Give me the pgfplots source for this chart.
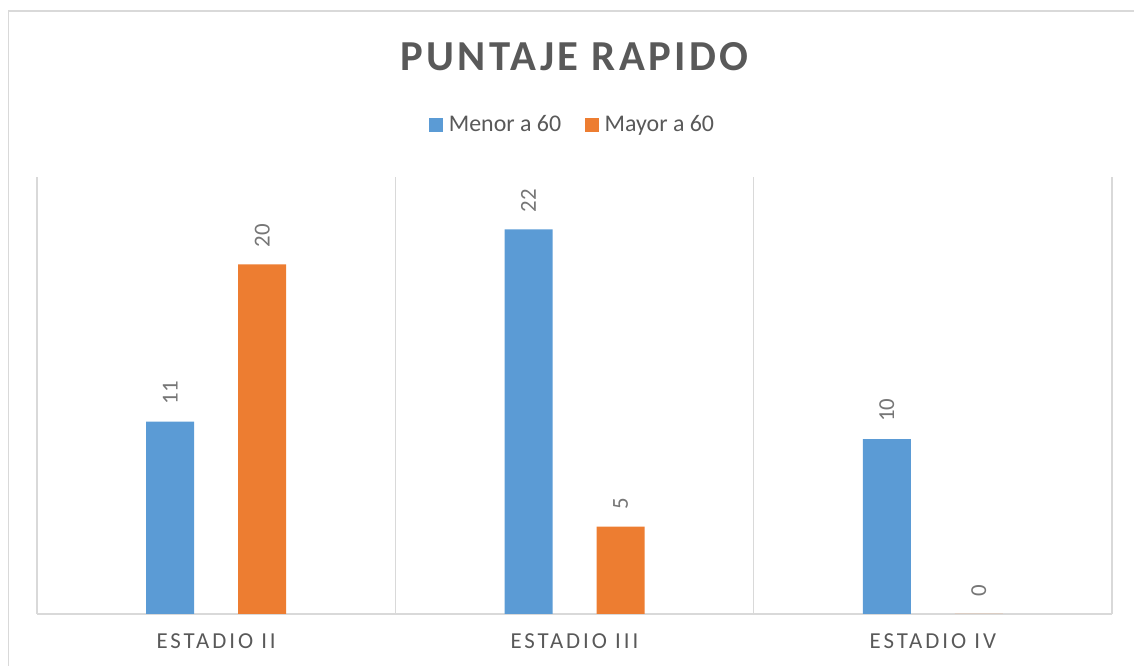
\documentclass[border=0pt]{standalone}
\usepackage{fontspec}
\setmainfont{Carlito}
\newfontfamily\titlefont[LetterSpace=8]{Carlito}
\newfontfamily\tickfont[LetterSpace=13]{Carlito}
\usepackage{pgfplots}
\pgfplotsset{compat=1.18}
\definecolor{barblue}{RGB}{91,155,213}
\definecolor{barorange}{RGB}{237,125,49}
\definecolor{txt}{RGB}{89,89,89}
\definecolor{lbl}{RGB}{118,118,118}
\definecolor{linec}{RGB}{217,217,217}
\pgfplotsset{sqlegend/.style={legend image code/.code={\fill[##1] (0cm,-0.14cm) rectangle (0.28cm,0.14cm);}}}

\begin{document}
\begin{tikzpicture}
\useasboundingbox (0,0) rectangle (22.68cm,13.32cm);
\draw[linec, line width=0.8pt] (0.17cm,0) -- (0.17cm,13.1cm) -- (22.68cm,13.1cm);
\node[anchor=base, text=txt, font=\titlefont\bfseries\fontsize{24.3}{28}\selectfont] at (11.49cm,11.9cm) {PUNTAJE RAPIDO};
\begin{axis}[
  at={(0.74cm,1.04cm)}, anchor=south west,
  width=21.5cm, height=8.74cm, scale only axis,
  ybar=0.88cm, bar width=0.96cm,
  xmin=-0.5, xmax=2.5, ymin=0, ymax=25,
  axis x line*=bottom, axis y line=none,
  x axis line style={draw=linec, line width=0.8pt, -},
  xtick={0,1,2},
  xticklabels={ESTADIO II, ESTADIO III, ESTADIO IV},
  xticklabel style={font=\tickfont\fontsize{13}{15}\selectfont, text=txt, yshift=-0.26cm},
  ytick=\empty,
  major tick length=0pt, minor tick length=0pt,
  minor xtick={-0.5,0.5,1.5,2.5},
  xminorgrids=true,
  minor grid style={draw=linec, line width=0.8pt},
  /pgf/number format/assume math mode=true,
  nodes near coords,
  every node near coord/.append style={font=\fontsize{13}{15}\selectfont, text=lbl, rotate=90, anchor=west, inner sep=0pt, xshift=0.34cm},
  legend style={at={(0.5,1)}, anchor=center, yshift=1.04cm, draw=none, legend columns=2,
    font=\fontsize{13.6}{16}\selectfont, text=txt,
    nodes={inner xsep=0.12cm},
    /tikz/every even column/.append style={column sep=0.35cm}},
]
\addplot[fill=barblue, draw=none, sqlegend] coordinates {(0,11) (1,22) (2,10)};
\addplot[fill=barorange, draw=none, sqlegend] coordinates {(0,20) (1,5) (2,0)};
\legend{Menor a 60, Mayor a 60}
\end{axis}
\end{tikzpicture}
\end{document}
